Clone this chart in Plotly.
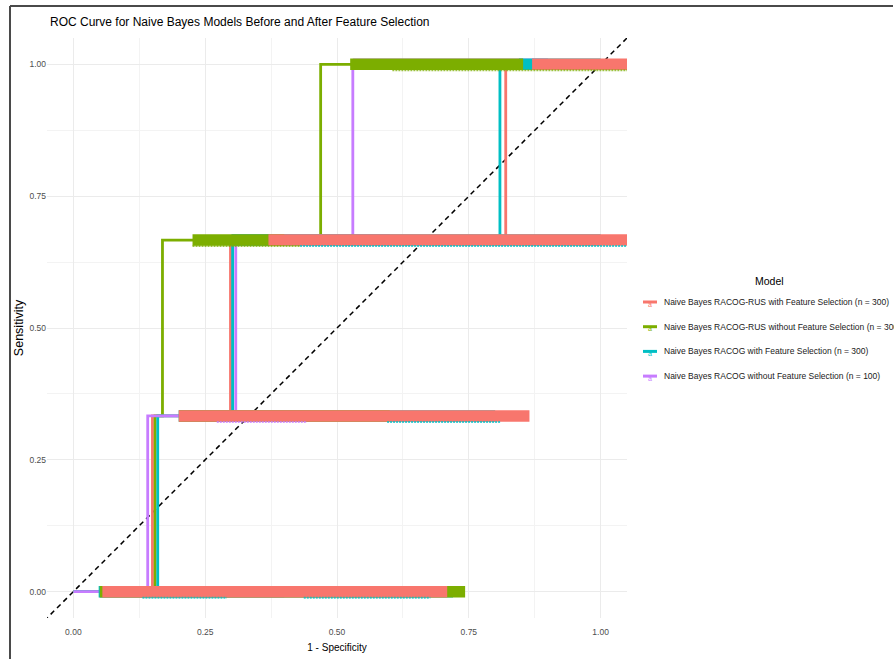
import plotly.graph_objects as go

# ---- data -------------------------------------------------------------
models = [
    "Naive Bayes RACOG-RUS with Feature Selection (n = 300)",
    "Naive Bayes RACOG-RUS without Feature Selection (n = 300)",
    "Naive Bayes RACOG with Feature Selection (n = 300)",
    "Naive Bayes RACOG without Feature Selection (n = 100)",
]
colors = ["#F8766D", "#7CAE00", "#00BFC4", "#C77CFF"]

# ROC step paths (1 - specificity, sensitivity)
roc_fpr = [
    [0.0, 0.150, 0.150, 0.298, 0.298, 0.820, 0.820, 1.0],
    [0.0, 0.155, 0.155, 0.169, 0.169, 0.469, 0.469, 1.0],
    [0.0, 0.160, 0.160, 0.302, 0.302, 0.809, 0.809, 1.0],
    [0.0, 0.141, 0.141, 0.308, 0.308, 0.530, 0.530, 1.0],
]
roc_tpr = [
    [0.0, 0.0, 1 / 3, 1 / 3, 2 / 3, 2 / 3, 1.0, 1.0],
    [0.0, 0.0, 1 / 3, 1 / 3, 2 / 3, 2 / 3, 1.0, 1.0],
    [0.0, 0.0, 1 / 3, 1 / 3, 2 / 3, 2 / 3, 1.0, 1.0],
    [0.0, 0.0, 1 / 3, 1 / 3, 2 / 3, 2 / 3, 1.0, 1.0],
]

# threshold labels: one run per sensitivity level (fpr start, fpr end, level)
label_runs = [
    [(0.055, 0.709, 0.0), (0.200, 0.865, 1 / 3), (0.370, 1.060, 2 / 3), (0.870, 1.060, 1.0)],
    [(0.050, 0.743, 0.0), (0.200, 0.600, 1 / 3), (0.226, 0.400, 2 / 3), (0.525, 0.853, 1.0)],
    [(0.048, 0.720, 0.0), (0.200, 0.800, 1 / 3), (0.300, 1.000, 2 / 3), (0.845, 1.000, 1.0)],
    [(0.050, 0.400, 0.0), (0.200, 0.450, 1 / 3), (0.300, 0.600, 2 / 3), (0.530, 0.900, 1.0)],
]
# second, thinner row of label text beneath the main run
label_tails = [
    [],
    [(0.605, 1.060, 1.0), (0.226, 0.430, 2 / 3)],
    [(0.430, 1.060, 2 / 3), (0.595, 0.810, 1 / 3), (0.131, 0.291, 0.0), (0.437, 0.677, 0.0)],
    [(0.272, 0.443, 1 / 3)],
]

x_ticks = [0.0, 0.25, 0.5, 0.75, 1.0]
y_ticks = [0.0, 0.25, 0.5, 0.75, 1.0]
axis_range = [-0.05, 1.05]

# ---- layout geometry (pixels) -----------------------------------------
W, H = 894, 659
L, R, T, B = 47, 267, 38, 41
PW, PH = W - L - R, H - T - B
TAIL_DROP_PX = 6

FONT = "Liberation Sans, Arial, sans-serif"


def px_x(px):
    return (px - L) / PW


def px_y(py):
    return (T + PH - py) / PH


def runs_to_xy(runs):
    xs, ys = [], []
    for x0, x1, lvl in runs:
        xs += [x0, x1, None]
        ys += [lvl, lvl, None]
    return xs, ys


fig = go.Figure()

# chance line
fig.add_trace(go.Scatter(
    x=[-0.2, 1.2], y=[-0.2, 1.2], mode="lines",
    line=dict(color="black", width=1.5, dash="5px,4px"),
    hoverinfo="skip", showlegend=False,
))

# ROC step curves
for name, col, fx, ty in zip(models, colors, roc_fpr, roc_tpr):
    fig.add_trace(go.Scatter(
        x=fx, y=ty, mode="lines", name=name,
        line=dict(color=col, width=2.8),
        showlegend=False,
    ))

# threshold label runs, drawn last model first
for i in reversed(range(len(models))):
    tx, ty = runs_to_xy(label_tails[i])
    if tx:
        fig.add_trace(go.Scatter(
            x=tx, y=ty, mode="lines", yaxis="y2",
            line=dict(color=colors[i], width=2, dash="2px,1px"),
            opacity=0.75, hoverinfo="skip", showlegend=False,
        ))
for i in reversed(range(len(models))):
    bx, by = runs_to_xy(label_runs[i])
    fig.add_trace(go.Scatter(
        x=bx, y=by, mode="lines",
        line=dict(color=colors[i], width=11.5),
        hoverinfo="skip", showlegend=False,
    ))

shift = TAIL_DROP_PX * (axis_range[1] - axis_range[0]) / PH

grid = "#EBEBEB"
fig.update_layout(
    width=W, height=H,
    margin=dict(l=L, r=R, t=T, b=B, pad=0),
    paper_bgcolor="white", plot_bgcolor="white",
    showlegend=False,
    title=dict(
        text="ROC Curve for Naive Bayes Models Before and After Feature Selection",
        x=50 / W, xanchor="left", xref="container",
        y=1 - 22 / H, yanchor="middle", yref="container",
        font=dict(family=FONT, size=12, color="black"),
    ),
    xaxis=dict(
        range=axis_range, tickvals=x_ticks, tickformat=".2f",
        showgrid=True, gridcolor=grid, gridwidth=1,
        minor=dict(dtick=0.125, tick0=0, showgrid=True, gridcolor="#F3F3F3", gridwidth=1),
        zeroline=False, showline=False, ticks="", automargin=False,
        ticklabelstandoff=7,
        tickfont=dict(family=FONT, size=8.5, color="#4D4D4D"),
        title=dict(text="1 - Specificity", standoff=8,
                   font=dict(family=FONT, size=10, color="black")),
    ),
    yaxis=dict(
        range=axis_range, tickvals=y_ticks, tickformat=".2f",
        showgrid=True, gridcolor=grid, gridwidth=1,
        minor=dict(dtick=0.125, tick0=0, showgrid=True, gridcolor="#F3F3F3", gridwidth=1),
        zeroline=False, showline=False, ticks="", automargin=False,
        tickfont=dict(family=FONT, size=8.5, color="#4D4D4D"),
        title=dict(text="Sensitivity", standoff=3,
                   font=dict(family=FONT, size=12.5, color="black")),
    ),
    yaxis2=dict(
        range=[axis_range[0] + shift, axis_range[1] + shift],
        overlaying="y", visible=False,
    ),
)

# legend drawn beside the panel
annotations = [dict(
    text="Model", x=px_x(769), y=px_y(281), xref="paper", yref="paper",
    xanchor="center", yanchor="middle", showarrow=False,
    font=dict(family=FONT, size=10.5, color="black"),
)]
shapes = []
for i, (name, col) in enumerate(zip(models, colors)):
    yy = px_y(302 + i * 24.7)
    shapes.append(dict(type="line", xref="paper", yref="paper",
                       x0=px_x(643), x1=px_x(657), y0=yy, y1=yy,
                       line=dict(color=col, width=3)))
    annotations.append(dict(
        text="a", x=px_x(650), y=yy - 2 / PH, xref="paper", yref="paper",
        xanchor="center", yanchor="middle", showarrow=False,
        font=dict(family=FONT, size=7, color=col),
    ))
    annotations.append(dict(
        text=name, x=px_x(662), y=yy, xref="paper", yref="paper",
        xanchor="left", yanchor="middle", showarrow=False,
        font=dict(family=FONT, size=8.5, color="#1A1A1A"),
    ))

# outer frame on the top and left edges
frame = dict(color="#4A4A4A", width=2)
shapes.append(dict(type="line", xref="paper", yref="paper",
                   x0=px_x(10), x1=px_x(10), y0=px_y(6), y1=px_y(H + 2), line=frame))
shapes.append(dict(type="line", xref="paper", yref="paper",
                   x0=px_x(10), x1=px_x(893), y0=px_y(6), y1=px_y(6), line=frame))

fig.update_layout(annotations=annotations, shapes=shapes)

fig.write_html("out.html")
